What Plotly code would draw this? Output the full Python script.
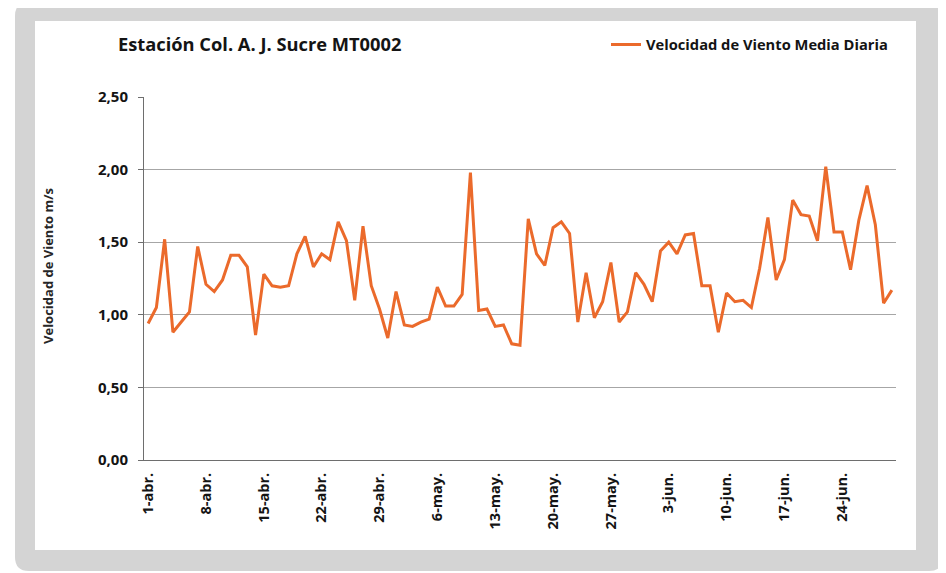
import plotly.graph_objects as go
import pandas as pd

# ---------------- data ----------------
dates = pd.date_range("2023-04-01", "2023-06-30").strftime("%Y-%m-%d").tolist()
wind_speed = [
    0.94, 1.05, 1.52, 0.88, 0.95, 1.02, 1.47, 1.21, 1.16, 1.24,
    1.41, 1.41, 1.33, 0.86, 1.28, 1.20, 1.19, 1.20, 1.42, 1.54,
    1.33, 1.42, 1.38, 1.64, 1.51, 1.10, 1.61, 1.20, 1.04, 0.84,
    1.16, 0.93, 0.92, 0.95, 0.97, 1.19, 1.06, 1.06, 1.14, 1.98,
    1.03, 1.04, 0.92, 0.93, 0.80, 0.79, 1.66, 1.42, 1.34, 1.60,
    1.64, 1.56, 0.95, 1.29, 0.98, 1.09, 1.36, 0.95, 1.02, 1.29,
    1.21, 1.09, 1.44, 1.50, 1.42, 1.55, 1.56, 1.20, 1.20, 0.88,
    1.15, 1.09, 1.10, 1.05, 1.32, 1.67, 1.24, 1.38, 1.79, 1.69,
    1.68, 1.51, 2.02, 1.57, 1.57, 1.31, 1.65, 1.89, 1.62, 1.08,
    1.17,
]
tick_dates = dates[::7]
tick_labels = ["1-abr.", "8-abr.", "15-abr.", "22-abr.", "29-abr.", "6-may.",
               "13-may.", "20-may.", "27-may.", "3-jun.", "10-jun.", "17-jun.",
               "24-jun."]
series_name = "Velocidad de Viento Media Diaria"
chart_title = "Estación Col. A. J. Sucre MT0002"
y_title = "Velocidad de Viento m/s"

# ---------------- layout geometry (page pixels) ----------------
W, H = 946, 573
OFF = 8  # default body margin of the html page
PL, PR, PT, PB = 144, 896, 97, 460  # plot area in page pixels
ML, MT = PL - OFF, PT - OFF
MR, MB = W - (PR - OFF), H - (PB - OFF)
PW, PH = PR - PL, PB - PT


def px(xp):
    return (xp - PL) / PW


def py(yp):
    return 1 - (yp - PT) / PH


def rounded_rect(x0, y0, x1, y1, r):
    rx, ry = r / PW, r / PH
    X0, X1, Y0, Y1 = px(x0), px(x1), py(y0), py(y1)  # Y0 top, Y1 bottom
    return (f"M {X0+rx},{Y0} L {X1-rx},{Y0} Q {X1},{Y0} {X1},{Y0-ry} "
            f"L {X1},{Y1+ry} Q {X1},{Y1} {X1-rx},{Y1} "
            f"L {X0+rx},{Y1} Q {X0},{Y1} {X0},{Y1+ry} "
            f"L {X0},{Y0-ry} Q {X0},{Y0} {X0+rx},{Y0} Z")


ORANGE = "#EB6A2B"
FONT = "Open Sans"
TXT = "#141414"

fig = go.Figure()
fig.add_trace(go.Scatter(
    x=dates, y=wind_speed, mode="lines", name=series_name,
    line=dict(color=ORANGE, width=3), showlegend=True,
))

fig.update_layout(
    width=W, height=H,
    margin=dict(l=ML, r=MR, t=MT, b=MB, pad=0),
    paper_bgcolor="white",
    plot_bgcolor="rgba(0,0,0,0)",
    separators=",.",
    font=dict(family=FONT, color=TXT),
    title=dict(
        text=chart_title, xref="container", x=(118 - OFF) / W, xanchor="left",
        yref="container", y=1 - (45 - OFF) / H, yanchor="middle",
        font=dict(family=FONT, size=18.3, color=TXT, weight="bold"),
    ),
    legend=dict(
        x=px(606), y=py(45), xanchor="left", yanchor="middle",
        xref="paper", yref="paper",
        bgcolor="rgba(0,0,0,0)", itemwidth=30,
        font=dict(family=FONT, size=14.7, color=TXT, weight="bold"),
    ),
    shapes=[
        dict(type="path", xref="paper", yref="paper", layer="below",
             path=rounded_rect(15, 2, 943, 571, 14),
             fillcolor="#d4d4d4", line=dict(width=0)),
        dict(type="rect", xref="paper", yref="paper", layer="below",
             x0=px(35), x1=px(916), y0=py(550), y1=py(21),
             fillcolor="white", line=dict(width=0)),
    ],
    annotations=[
        dict(text=y_title, xref="paper", yref="paper", x=px(48), y=py(266),
             xanchor="center", yanchor="middle", textangle=-90, showarrow=False,
             font=dict(family=FONT, size=13, color="#262626", weight="bold")),
    ],
)

fig.update_xaxes(
    type="date",
    range=["2023-03-31 12:00", "2023-06-30 12:00"],
    tickmode="array", tickvals=tick_dates, ticktext=tick_labels,
    tickangle=-90, ticks="", showgrid=False, zeroline=False,
    showline=True, linecolor="#6e6e6e", linewidth=1,
    ticklabelstandoff=6,
    tickfont=dict(family=FONT, size=14.5, color=TXT, weight="bold"),
)
fig.update_yaxes(
    range=[0, 2.5], dtick=0.5, tick0=0, tickformat=".2f",
    showgrid=True, gridcolor="#a6a6a6", gridwidth=1,
    zeroline=False, showline=True, linecolor="#6e6e6e", linewidth=1,
    ticks="outside", ticklen=5, tickcolor="#6e6e6e",
    ticklabelstandoff=7,
    tickfont=dict(family=FONT, size=15, color=TXT, weight="bold"),
)

fig.write_html("out.html")
